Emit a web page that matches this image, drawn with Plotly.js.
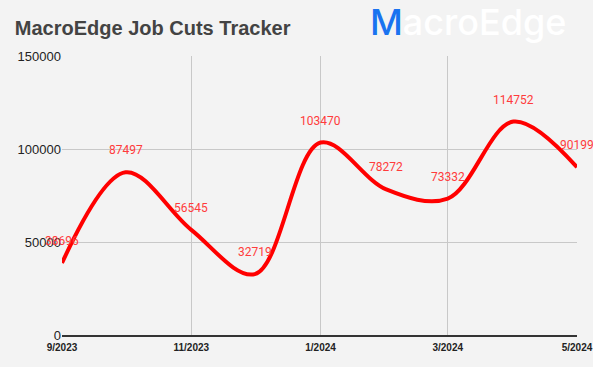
<!DOCTYPE html>
<html><head><meta charset="utf-8">
<script src="https://cdn.plot.ly/plotly-3.0.1.min.js"></script>
<style>html,body{margin:0;padding:0;background:#f3f3f3}</style>
</head><body>
<div id="chart" style="width:593px;height:367px"></div>
<script>
const months = ['2023-09-01','2023-10-01','2023-11-01','2023-12-01','2024-01-01','2024-02-01','2024-03-01','2024-04-01','2024-05-01'];
const jobCuts = [38696, 87497, 56545, 32719, 103470, 78272, 73332, 114752, 90199];
const yTicks = [0, 50000, 100000, 150000];

const labelAnns = months.map((m, i) => ({
  x: m, y: jobCuts[i], xref: 'x', yref: 'y', text: String(jobCuts[i]),
  showarrow: false, yshift: 22, xanchor: 'center', yanchor: 'middle',
  font: {family: 'Roboto, Arial, sans-serif', size: 12, color: '#ff3b3b'}
}));

Plotly.newPlot('chart', [{
  x: months, y: jobCuts, type: 'scatter', mode: 'lines',
  line: {color: '#ff0000', width: 4, shape: 'spline', smoothing: 1},
  cliponaxis: false, hoverinfo: 'skip'
}], {
  width: 593, height: 367,
  paper_bgcolor: '#f3f3f3', plot_bgcolor: '#f3f3f3',
  margin: {l: 62, r: 16, t: 56, b: 32},
  showlegend: false,
  title: {text: '<b>MacroEdge Job Cuts Tracker</b>', x: 0.025, xanchor: 'left', y: 0.925, yanchor: 'middle',
    font: {family: 'Liberation Sans, Arial, sans-serif', size: 20, color: '#434343'}},
  xaxis: {type: 'date', range: ['2023-09-01','2024-05-01'], tick0: '2023-09-01', dtick: 'M2',
    tickformat: '%-m/%Y', showgrid: true, gridcolor: '#c8c8c8', gridwidth: 1,
    showline: true, linecolor: '#333', linewidth: 1.5, zeroline: false, ticks: '', ticklabelstandoff: 2,
    tickfont: {family: 'Liberation Sans, Arial, sans-serif', size: 10, color: '#222', weight: 'bold'}},
  yaxis: {range: [0, 150000], tickvals: yTicks, ticktext: yTicks.map(String),
    showgrid: true, gridcolor: '#c8c8c8', zeroline: false, showline: false, ticks: '',
    tickfont: {family: 'Liberation Sans, Arial, sans-serif', size: 13, color: '#222'}},
  annotations: labelAnns.concat([{
    xref: 'paper', yref: 'paper', x: 0.982, y: 1.122, xanchor: 'right', yanchor: 'middle',
    text: '<span style="color:#1a73f0">M</span>acroEdge', showarrow: false,
    font: {family: 'Inter, sans-serif', size: 36, color: '#ffffff', weight: 500}
  }])
}, {displayModeBar: false, staticPlot: true});
</script>
</body></html>
